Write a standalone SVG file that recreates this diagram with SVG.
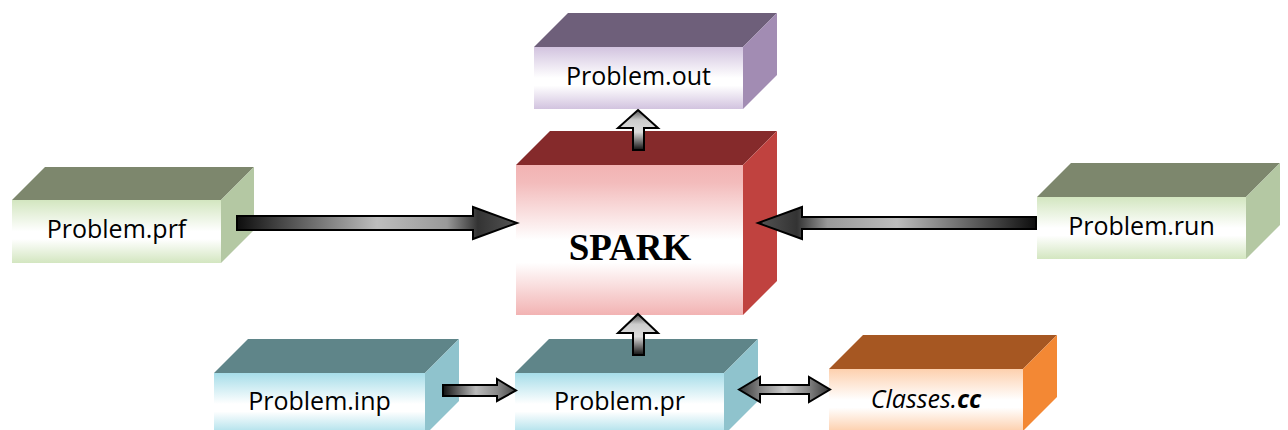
<svg xmlns="http://www.w3.org/2000/svg" width="1288" height="430" viewBox="0 0 1288 430">
<defs>
<style>
.lbl{font-family:"Open Sans","Liberation Sans",sans-serif;font-size:25px;fill:#000;text-anchor:middle}
.big{font-family:"Liberation Serif","Times New Roman",serif;font-size:37px;font-weight:bold;fill:#000;text-anchor:middle}
.arr{stroke:#000;stroke-width:2;stroke-linejoin:miter}
</style>
<linearGradient id="fOut" x1="0" y1="0" x2="0" y2="1"><stop offset="0" stop-color="#d2c3df"/><stop offset="0.5" stop-color="#fff"/><stop offset="0.62" stop-color="#fff"/><stop offset="1" stop-color="#d2c3df"/></linearGradient>
<linearGradient id="fSp" x1="0" y1="0" x2="0" y2="1"><stop offset="0" stop-color="#f2b3b3"/><stop offset="0.12" stop-color="#f3bcbc"/><stop offset="0.5" stop-color="#fff"/><stop offset="0.65" stop-color="#fff"/><stop offset="1" stop-color="#f2b3b3"/></linearGradient>
<linearGradient id="fGr" x1="0" y1="0" x2="0" y2="1"><stop offset="0" stop-color="#d3e6c0"/><stop offset="0.5" stop-color="#fff"/><stop offset="0.62" stop-color="#fff"/><stop offset="1" stop-color="#d3e6c0"/></linearGradient>
<linearGradient id="fTe" x1="0" y1="0" x2="0" y2="1"><stop offset="0" stop-color="#a6dde9"/><stop offset="0.5" stop-color="#fff"/><stop offset="0.62" stop-color="#fff"/><stop offset="1" stop-color="#a6dde9"/></linearGradient>
<linearGradient id="fOr" x1="0" y1="0" x2="0" y2="1"><stop offset="0" stop-color="#fdd0ae"/><stop offset="0.5" stop-color="#fff"/><stop offset="0.62" stop-color="#fff"/><stop offset="1" stop-color="#fdd0ae"/></linearGradient>
<linearGradient id="aR" gradientUnits="userSpaceOnUse" x1="237" y1="0" x2="517" y2="0"><stop offset="0" stop-color="#0d0d0d"/><stop offset="0.15" stop-color="#444"/><stop offset="0.5" stop-color="#bdbdbd"/><stop offset="0.75" stop-color="#999"/><stop offset="0.86" stop-color="#333"/><stop offset="1" stop-color="#555"/></linearGradient>
<linearGradient id="aL" gradientUnits="userSpaceOnUse" x1="1036" y1="0" x2="758" y2="0"><stop offset="0" stop-color="#0d0d0d"/><stop offset="0.15" stop-color="#444"/><stop offset="0.5" stop-color="#bdbdbd"/><stop offset="0.75" stop-color="#999"/><stop offset="0.86" stop-color="#333"/><stop offset="1" stop-color="#555"/></linearGradient>
<linearGradient id="aI" gradientUnits="userSpaceOnUse" x1="443" y1="0" x2="516" y2="0"><stop offset="0" stop-color="#111"/><stop offset="0.45" stop-color="#bbb"/><stop offset="0.75" stop-color="#888"/><stop offset="1" stop-color="#444"/></linearGradient>
<linearGradient id="aD" gradientUnits="userSpaceOnUse" x1="739" y1="0" x2="830" y2="0"><stop offset="0" stop-color="#333"/><stop offset="0.25" stop-color="#888"/><stop offset="0.5" stop-color="#ccc"/><stop offset="0.75" stop-color="#888"/><stop offset="1" stop-color="#333"/></linearGradient>
<linearGradient id="aU" x1="0" y1="0" x2="0" y2="1"><stop offset="0" stop-color="#555"/><stop offset="0.25" stop-color="#ccc"/><stop offset="0.55" stop-color="#ddd"/><stop offset="1" stop-color="#111"/></linearGradient>
</defs>

<g id="node-out">
<rect x="534" y="47" width="209" height="62" fill="url(#fOut)"/>
<polygon points="534,47 568,13 777,13 743,47" fill="#6e5f7a"/>
<polygon points="743,47 777,13 777,75 743,109" fill="#a28cb3"/>
<text class="lbl" x="638.5" y="85">Problem.out</text>
</g>

<g id="node-spark">
<rect x="516" y="165" width="227" height="150" fill="url(#fSp)"/>
<polygon points="516,165 550,131 777,131 743,165" fill="#852a2b"/>
<polygon points="743,165 777,131 777,281 743,315" fill="#c0423f"/>
<text class="big" x="630" y="260">SPARK</text>
</g>

<g id="node-prf">
<rect x="12" y="200" width="209" height="63" fill="url(#fGr)"/>
<polygon points="12,200 45,167 254,167 221,200" fill="#7d876d"/>
<polygon points="221,200 254,167 254,230 221,263" fill="#b4c8a3"/>
<text class="lbl" x="116.5" y="238">Problem.prf</text>
</g>

<g id="node-run">
<rect x="1037" y="197" width="209" height="62" fill="url(#fGr)"/>
<polygon points="1037,197 1071,163 1280,163 1246,197" fill="#7d876d"/>
<polygon points="1246,197 1280,163 1280,225 1246,259" fill="#b4c8a3"/>
<text class="lbl" x="1141.5" y="235">Problem.run</text>
</g>

<g id="node-inp">
<rect x="214" y="373" width="211" height="62" fill="url(#fTe)"/>
<polygon points="214,373 248,339 459,339 425,373" fill="#5f8589"/>
<polygon points="425,373 459,339 459,401 425,435" fill="#8fc3cd"/>
<text class="lbl" x="319.5" y="410">Problem.inp</text>
</g>

<g id="node-pr">
<rect x="515" y="373" width="209" height="62" fill="url(#fTe)"/>
<polygon points="515,373 549,339 758,339 724,373" fill="#5f8589"/>
<polygon points="724,373 758,339 758,401 724,435" fill="#8fc3cd"/>
<text class="lbl" x="619.5" y="410">Problem.pr</text>
</g>

<g id="node-classes">
<rect x="829" y="369" width="194" height="62" fill="url(#fOr)"/>
<polygon points="829,369 863,335 1057,335 1023,369" fill="#a65722"/>
<polygon points="1023,369 1057,335 1057,397 1023,431" fill="#f38834"/>
<text class="lbl" x="926" y="408" font-style="italic">Classes.<tspan font-weight="bold">cc</tspan></text>
</g>

<g id="connectors">
<polygon class="arr" fill="url(#aR)" points="237,216 473,216 473,207 517,223 473,239 473,230 237,230"/>
<polygon class="arr" fill="url(#aL)" points="1036,217 802,217 802,207 758,223 802,239 802,229 1036,229"/>
<polygon class="arr" fill="url(#aU)" points="638,110 658,128 644,128 644,150 633,150 633,128 618,128"/>
<polygon class="arr" fill="url(#aU)" points="638,314 658,333 644,333 644,355 633,355 633,333 618,333"/>
<polygon class="arr" fill="url(#aI)" points="443,385 497,385 497,379 516,390.5 497,401 497,396 443,396"/>
<polygon class="arr" fill="url(#aD)" points="739,389.5 760,377 760,385 809,385 809,377 830,389.5 809,402 809,394 760,394 760,402"/>
</g>
</svg>
